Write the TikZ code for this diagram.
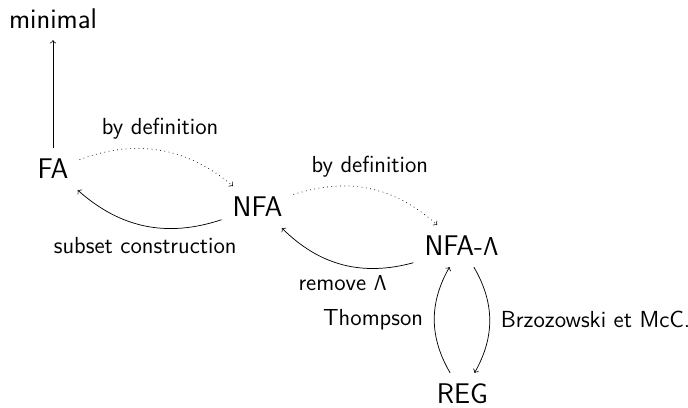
\documentclass[tikz,border=0pt]{standalone}
\begin{document}
\begin{tikzpicture}[x=0.5556pt,y=0.5556pt,font=\sffamily,>=to,
  every node/.style={inner sep=6pt},
  big/.style={font=\sffamily\fontsize{15.8}{19}\selectfont},
  lbl/.style={font=\sffamily\fontsize{12.9}{15}\selectfont},
  conn/.style={->,bend left=30},
  defconn/.style={conn,dotted}]
\useasboundingbox (0,0) rectangle (688,-408);
\node[big] (min) at (53,-19) {minimal};
\node[big] (fa) at (53,-169) {FA};
\node[big] (nfa) at (257.5,-207) {NFA};
\node[big] (nfal) at (461.5,-246) {NFA-$\mathsf{\Lambda}$};
\node[big] (reg) at (462.5,-394) {REG};
\draw[->] (fa) -- (min);
\draw[defconn] (fa) to node[lbl,above] {by definition} (nfa);
\draw[conn] (nfa) to node[lbl,below] {subset construction} (fa);
\draw[defconn] (nfa) to node[lbl,above] {by definition} (nfal);
\draw[conn] (nfal) to node[lbl,below] {remove $\mathsf{\Lambda}$} (nfa);
\draw[conn] (reg) to node[lbl,left] {Thompson} (nfal);
\draw[conn] (nfal) to node[lbl,right] {Brzozowski et McC.} (reg);
\end{tikzpicture}
\end{document}
